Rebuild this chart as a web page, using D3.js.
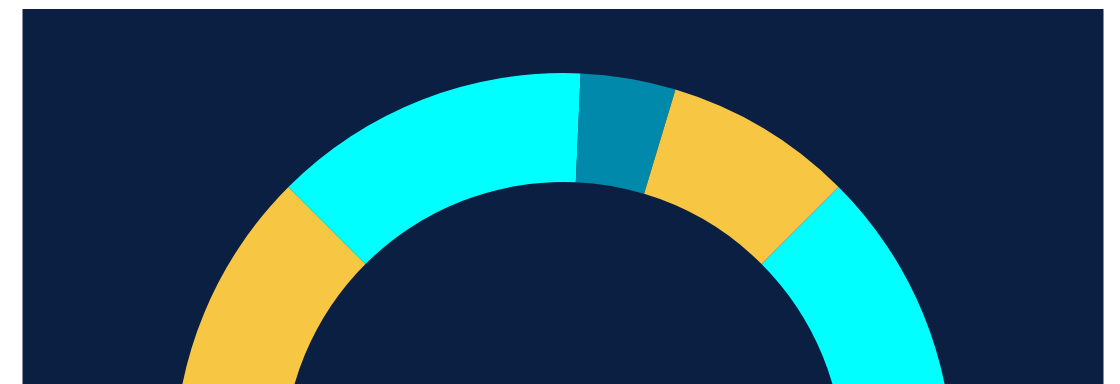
<!DOCTYPE html>
<html>
<head>
<meta charset="utf-8">
<script src="https://cdn.jsdelivr.net/npm/d3@7"></script>
<style>
html,body{margin:0;padding:0;background:#ffffff;overflow:hidden;}
svg{display:block;}
</style>
</head>
<body>
<script>
const categories = ["A", "B", "C", "D", "E"];
const values = [25, 26.4, 7.9, 15.7, 25];
const colors = ["#f7c744", "#00ffff", "#0089aa", "#f7c744", "#00ffff"];

const W = 1120, H = 384;
const svg = d3.select("body").append("svg").attr("width", W).attr("height", H);

svg.append("rect")
  .attr("x", 22.5).attr("y", 9)
  .attr("width", 1081).attr("height", 420)
  .attr("fill", "#0b1f42");

const cx = 563.5, cy = 462, R = 389, r = 280;

const pie = d3.pie().sort(null)
  .startAngle(-Math.PI / 2).endAngle(Math.PI / 2)
  .value(d => d.v);

const data = categories.map((c, i) => ({ c, v: values[i], col: colors[i] }));
const arc = d3.arc().innerRadius(r).outerRadius(R);

svg.append("g")
  .attr("transform", `translate(${cx},${cy})`)
  .selectAll("path")
  .data(pie(data))
  .join("path")
  .attr("d", arc)
  .attr("fill", d => d.data.col);
</script>
</body>
</html>
